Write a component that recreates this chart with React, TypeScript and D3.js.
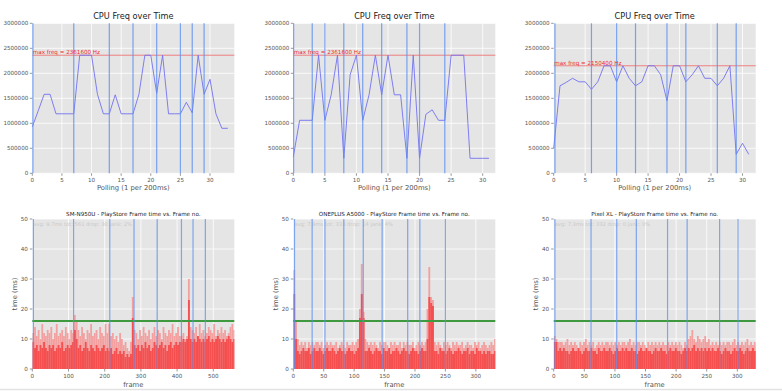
import * as d3 from 'd3';

// ---- CPU frequency samples (Hz), one per 200ms poll ----
const cpuN950 = [930000, 1250000, 1580000, 1580000, 1190000, 1190000, 1190000, 1190000, 2361600, 2361600, 2361600,
  1580000, 1190000, 1190000, 1570000, 1190000, 1190000, 1190000, 1580000, 2361600, 2361600, 1600000, 2361600,
  1190000, 1190000, 1190000, 1420000, 1210000, 2361600, 1580000, 1880000, 1190000, 900000, 900000];
const cpuA5000 = [330000, 1060000, 1060000, 1060000, 2361600, 1060000, 1570000, 2361600, 300000, 1970000, 2361600,
  1060000, 1570000, 2361600, 1570000, 2361600, 1570000, 1570000, 300000, 2361600, 300000, 1180000, 1270000,
  1060000, 1060000, 2361600, 2361600, 2361600, 300000, 300000, 300000, 300000];
const cpuPixel = [500000, 1750000, 1820000, 1900000, 1830000, 1830000, 1680000, 1830000, 2150400, 2150400, 1830000,
  2150400, 1900000, 1750000, 1830000, 2150400, 2150400, 1970000, 1450000, 2150400, 2150400, 1830000, 1970000,
  2150400, 1900000, 1900000, 1750000, 1900000, 2150400, 380000, 600000, 380000];

const maxFreqs = [2361600, 2361600, 2150400];
const topXMax = [34.1, 32, 32.1];
const topMarkers = [
  [0.1, 7, 13, 17, 21, 25, 27, 29],
  [0.05, 3, 5, 8, 11, 14, 18, 20, 24],
  [0.2, 6, 10, 13, 18, 21, 26, 29],
];
const topYTicks = [0, 500000, 1000000, 1500000, 2000000, 2500000, 3000000];
const topXTicks = [0, 5, 10, 15, 20, 25, 30];

// ---- frame times (ms), binned: dark = floor of bars, light = peaks ----
const n950Dark = [9, 7, 8, 6, 8, 7, 9, 7, 6, 8, 7, 8, 6, 7, 8, 7, 9, 6, 7, 8, 7, 8, 9,
  13, 10,
  7, 8, 6, 7, 9, 7, 6, 8, 7, 6, 8, 7, 6, 7, 8, 6, 7,
  6, 7, 5, 6, 7, 5, 6, 5, 6, 4, 5, 4,
  5, 17, 8,
  7, 8, 6, 8, 7, 9, 7, 8, 6, 7, 9, 8, 7, 8, 9, 7, 8, 6, 8, 9, 7, 8, 9, 8, 9,
  9, 10, 9, 10,
  23, 10,
  9, 10, 9, 11, 10, 9, 10, 9, 10, 11, 9, 10, 9, 10, 11, 10, 9, 10, 9, 10, 11, 10, 9, 10];
const n950Light = [12, 14, 11, 13, 10, 15, 12, 11, 13, 12, 14, 10, 12, 15, 11, 12, 13, 11, 14, 12, 10, 13, 12,
  18, 16,
  13, 11, 14, 12, 10, 13, 12, 15, 11, 12, 13, 10, 14, 12, 11, 15, 12,
  15, 11, 12, 10, 11, 9, 12, 10, 8, 9, 7, 6,
  9, 24, 13,
  12, 10, 13, 11, 14, 12, 11, 13, 10, 12, 14, 11, 13, 12, 10, 14, 12, 11, 13, 12, 15, 11, 12, 14, 11,
  11, 12, 10, 11,
  30, 14,
  13, 12, 14, 11, 15, 12, 13, 11, 12, 14, 13, 12, 15, 11, 13, 12, 14, 12, 13, 11, 12, 14, 15, 13];

const a5000Dark = [25, 10, 6,
  5, 6, 7, 6, 6, 7, 5, 6, 7, 6, 6, 7, 6, 5, 6, 7, 6, 6, 7, 6, 5, 6, 7, 6, 6, 5, 6, 7, 6, 6, 5, 6,
  7, 17, 25, 17, 6,
  6, 7, 6, 5, 6, 7, 6, 6, 5, 7, 6, 6, 7, 5, 6, 6, 7, 6, 5, 6, 7, 6, 6, 5, 6, 7, 6, 6, 5, 6, 7, 6, 6,
  10, 24, 22, 21, 6,
  6, 5, 7, 6, 6, 5, 6, 7, 6, 5, 6, 6, 7, 6, 5, 6, 6, 7, 5, 6, 6, 5, 7, 6, 6, 5, 6, 5, 6, 6, 5, 5, 6];
const a5000Light = [33, 16, 10,
  8, 9, 8, 9, 7, 9, 8, 9, 8, 9, 9, 8, 9, 7, 8, 9, 8, 9, 8, 8, 9, 7, 8, 9, 8, 7, 9, 8, 8, 9, 8, 9,
  10, 20, 35, 19, 10,
  9, 8, 9, 8, 9, 8, 7, 9, 8, 9, 9, 8, 7, 9, 8, 9, 8, 8, 9, 7, 9, 8, 9, 8, 8, 9, 7, 8, 9, 8, 9, 8, 9,
  20, 34, 24, 23, 9,
  8, 9, 8, 7, 9, 8, 9, 8, 7, 9, 8, 9, 8, 8, 9, 7, 8, 9, 8, 8, 7, 9, 8, 9, 7, 8, 9, 8, 7, 8, 9, 8, 10];

const pixelDark = [9, 9, 6, 7,
  6, 7, 6, 6, 5, 6, 7, 6, 6, 7, 6, 5, 6, 7, 6, 6, 7, 6, 6, 5, 7, 6, 6, 7, 6, 6, 7, 6, 5, 6, 7, 6, 6, 7, 6,
  7, 6, 6, 7, 6, 6, 5, 6, 7, 6, 6, 7, 6, 6, 5, 6, 7, 6, 6, 7, 6, 6, 5, 6, 7, 6, 6, 7, 6, 6, 5, 6, 7, 6,
  7, 6, 7, 8, 6, 7, 6, 7, 6, 7, 6, 7, 6, 7,
  6, 6, 7, 6, 5, 6, 7, 6, 6, 5, 6, 7, 6, 6, 7, 6, 5, 6, 7, 6, 6, 7, 6, 6];
const pixelLight = [11, 10, 9, 9,
  9, 8, 9, 10, 8, 9, 8, 9, 8, 7, 9, 8, 9, 10, 8, 9, 8, 9, 7, 8, 9, 8, 9, 8, 9, 9, 8, 9, 8, 9, 8, 9, 8, 9, 9,
  8, 9, 10, 8, 9, 8, 9, 9, 8, 9, 8, 7, 9, 8, 9, 8, 9, 8, 9, 8, 9, 8, 8, 9, 8, 9, 8, 9, 8, 9, 8, 7, 9, 8,
  10, 11, 13, 10, 9, 11, 10, 9, 10, 11, 9, 10, 8, 9,
  8, 9, 8, 9, 8, 9, 8, 9, 9, 8, 9, 10, 8, 9, 8, 9, 8, 9, 10, 8, 9, 8, 9, 8];

const frameTitles = ['SM-N950U - PlayStore Frame time vs. Frame no.', 'ONEPLUS A5000 - PlayStore Frame time vs. Frame no.', 'Pixel XL - PlayStore Frame time vs. Frame no.'];
const frameStats = ['avg: 9.7ms tot: 561 drop: 30 jank: 2%', 'avg: 7.9ms tot: 333 drop: 14 jank: 4%', 'avg: 7.3ms tot: 332 drop: 0 jank: 0%'];
const frameBin = [5, 3, 3];
const frameXMax = [558, 332, 330];
const frameMarkers = [
  [3, 114, 214, 281, 345, 412, 444, 478],
  [2, 31, 52, 83, 115, 146, 188, 208, 250],
  [2, 61, 103, 135, 186, 218, 271, 301],
];
const frameXTicks = [[0, 100, 200, 300, 400, 500], [0, 50, 100, 150, 200, 250, 300], [0, 50, 100, 150, 200, 250, 300]];
const frameYTicks = [0, 10, 20, 30, 40, 50];

const FONT = 'DejaVu Sans, sans-serif';
const BG = '#e5e5e5';
const TICK = '#555';
const MARKER = '#5a8ff0';
const colLeft = [32.3, 293.3, 553.7];
const PLOT_W = 202;

function CpuPanel({ idx, data }: { idx: number; data: number[] }) {
  const left = colLeft[idx];
  const x = d3.scaleLinear().domain([0, topXMax[idx]]).range([left, left + PLOT_W]);
  const y = d3.scaleLinear().domain([0, 3000000]).range([173.3, 23.3]);
  const line = d3.line<number>().x((_, i) => x(i)).y(d => y(d));
  const mid = left + PLOT_W / 2;
  return (
    <g>
      <rect x={left} y={23.3} width={PLOT_W} height={150} fill={BG} />
      {topYTicks.map(t => <line key={'gy' + t} x1={left} x2={left + PLOT_W} y1={y(t)} y2={y(t)} stroke="#fff" strokeWidth={0.8} />)}
      {topXTicks.map(t => <line key={'gx' + t} x1={x(t)} x2={x(t)} y1={23.3} y2={173.3} stroke="#fff" strokeWidth={0.8} />)}
      <line x1={left} x2={left + PLOT_W} y1={y(maxFreqs[idx])} y2={y(maxFreqs[idx])} stroke="#ef7575" strokeWidth={0.9} />
      <path d={line(data) || ''} fill="none" stroke="#7272f2" strokeWidth={0.9} />
      {topMarkers[idx].map(m => <line key={'m' + m} x1={x(m)} x2={x(m)} y1={23.3} y2={173.3} stroke={MARKER} strokeOpacity={0.8} strokeWidth={1.2} />)}
      <text x={left + 0.5} y={y(maxFreqs[idx]) - 1.2} fill="#f02a2a" fontSize={5.6} fontFamily={FONT}>{`max freq = ${maxFreqs[idx]} Hz`}</text>
      {topYTicks.map(t => (
        <g key={'ty' + t}>
          <line x1={left - 2.5} x2={left} y1={y(t)} y2={y(t)} stroke={TICK} strokeWidth={0.6} />
          <text x={left - 4} y={y(t) + 2} textAnchor="end" fill={TICK} fontSize={5.6} fontFamily={FONT}>{t}</text>
        </g>
      ))}
      {topXTicks.map(t => (
        <g key={'tx' + t}>
          <line x1={x(t)} x2={x(t)} y1={173.3} y2={175.8} stroke={TICK} strokeWidth={0.6} />
          <text x={x(t)} y={182} textAnchor="middle" fill={TICK} fontSize={5.6} fontFamily={FONT}>{t}</text>
        </g>
      ))}
      <text x={mid} y={18.5} textAnchor="middle" fill="#222" fontSize={8.2} fontFamily={FONT}>CPU Freq over Time</text>
      <text x={mid} y={190} textAnchor="middle" fill={TICK} fontSize={6.8} fontFamily={FONT}>Polling (1 per 200ms)</text>
    </g>
  );
}

function FramePanel({ idx, dark, light }: { idx: number; dark: number[]; light: number[] }) {
  const left = colLeft[idx];
  const x = d3.scaleLinear().domain([0, frameXMax[idx]]).range([left, left + PLOT_W]);
  const y = d3.scaleLinear().domain([0, 50]).range([369, 219]);
  const bin = frameBin[idx];
  const mid = left + PLOT_W / 2;
  const clipId = 'clipf' + idx;
  return (
    <g>
      <defs>
        <clipPath id={clipId}><rect x={left} y={219} width={PLOT_W} height={150} /></clipPath>
      </defs>
      <rect x={left} y={219} width={PLOT_W} height={150} fill={BG} />
      {frameYTicks.map(t => <line key={'gy' + t} x1={left} x2={left + PLOT_W} y1={y(t)} y2={y(t)} stroke="#fff" strokeWidth={0.8} />)}
      {frameXTicks[idx].map(t => <line key={'gx' + t} x1={x(t)} x2={x(t)} y1={219} y2={369} stroke="#fff" strokeWidth={0.8} />)}
      <text x={left + 1} y={226} fill="#c9c9c9" fontSize={5.2} fontFamily={FONT}>{frameStats[idx]}</text>
      <g clipPath={`url(#${clipId})`}>
        {light.map((v, i) => (
          <rect key={'l' + i} x={x(i * bin)} width={x((i + 1) * bin) - x(i * bin)} y={y(v)} height={y(0) - y(v)} fill="#f3a0a0" />
        ))}
        {dark.map((v, i) => (
          <rect key={'d' + i} x={x(i * bin)} width={x((i + 1) * bin) - x(i * bin) + 0.05} y={y(v)} height={y(0) - y(v)} fill="#f54f4f" />
        ))}
      </g>
      <line x1={left} x2={left + PLOT_W} y1={y(16)} y2={y(16)} stroke="#3f9a3f" strokeWidth={1.8} />
      {frameMarkers[idx].map(m => <line key={'m' + m} x1={x(m)} x2={x(m)} y1={219} y2={369} stroke={MARKER} strokeOpacity={0.75} strokeWidth={1.2} />)}
      {frameYTicks.map(t => (
        <g key={'ty' + t}>
          <line x1={left - 2.5} x2={left} y1={y(t)} y2={y(t)} stroke={TICK} strokeWidth={0.6} />
          <text x={left - 4.5} y={y(t) + 2} textAnchor="end" fill={TICK} fontSize={5.6} fontFamily={FONT}>{t}</text>
        </g>
      ))}
      {frameXTicks[idx].map(t => (
        <g key={'tx' + t}>
          <line x1={x(t)} x2={x(t)} y1={369} y2={371.5} stroke={TICK} strokeWidth={0.6} />
          <text x={x(t)} y={377.5} textAnchor="middle" fill={TICK} fontSize={5.6} fontFamily={FONT}>{t}</text>
        </g>
      ))}
      <text x={mid} y={215.5} textAnchor="middle" fill="#222" fontSize={5.6} fontFamily={FONT}>{frameTitles[idx]}</text>
      <text x={mid} y={386.5} textAnchor="middle" fill={TICK} fontSize={6.8} fontFamily={FONT}>frame</text>
      <text transform={`translate(${left - 15.3},294) rotate(-90)`} textAnchor="middle" fill={TICK} fontSize={6.8} fontFamily={FONT}>time (ms)</text>
    </g>
  );
}

export default function App() {
  return (
    <svg width={782} height={391} style={{ position: 'absolute', left: 0, top: 0, background: '#fff' }}>
      <rect width={782} height={391} fill="#fff" />
      <CpuPanel idx={0} data={cpuN950} />
      <CpuPanel idx={1} data={cpuA5000} />
      <CpuPanel idx={2} data={cpuPixel} />
      <FramePanel idx={0} dark={n950Dark} light={n950Light} />
      <FramePanel idx={1} dark={a5000Dark} light={a5000Light} />
      <FramePanel idx={2} dark={pixelDark} light={pixelLight} />
      <line x1={0} x2={782} y1={389.5} y2={389.5} stroke="#e2e2e2" strokeWidth={1.5} />
    </svg>
  );
}
